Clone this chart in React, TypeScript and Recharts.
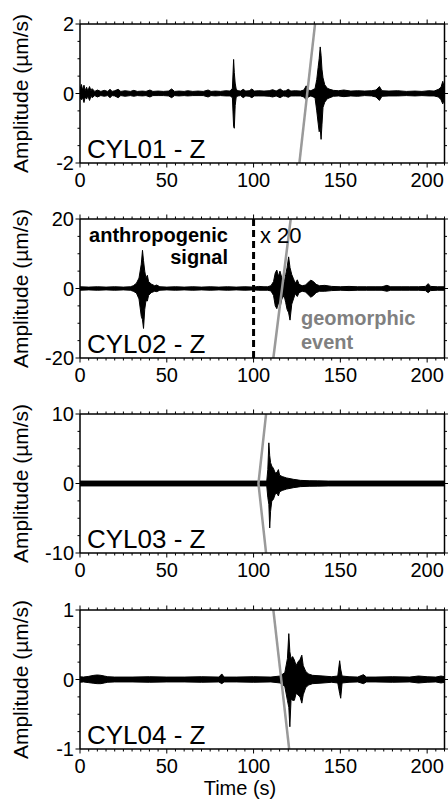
import React from 'react';
import { ComposedChart, Area, Line, XAxis, YAxis, ReferenceLine } from 'recharts';

const FONT = '"Liberation Sans", Arial, Helvetica, sans-serif';

// ---------- X axis ----------
const xDomain = [0, 210];
const xMajorTicks = [0, 50, 100, 150, 200];
const xMinorStep = 5;

// ---------- Panel 1 : CYL01 - Z ----------
const p1Time = [0, 0.8, 1.5, 2.3, 3, 3.8, 4.5, 5.5, 6.3, 7, 8.5, 10, 12, 14, 16, 17.3, 18.5, 20, 22, 23.5, 26, 29, 31, 33, 36, 38, 40.3, 42, 45, 48, 51, 52.8, 54.5, 57, 60, 62, 65, 68, 71, 73.8, 75.5, 78, 81, 84, 86.5, 87.8, 88.5, 88.9, 89.4, 90, 91, 92.5, 94, 95.5, 97.5, 99, 100.5, 103, 106, 109, 111, 113, 115.3, 117, 118.5, 120, 121.5, 124, 127, 129, 130.3, 131.5, 133, 135.4, 136.4, 137.2, 137.8, 138.4, 138.9, 139.4, 140, 141, 142.5, 144, 146, 149, 152, 156, 160, 164, 168, 170.5, 172.5, 174, 178, 183, 188, 193, 197, 201, 204, 206.5, 208, 209, 210];
const p1Upper = [0.12, 0.26, 0.1, 0.24, 0.08, 0.18, 0.07, 0.2, 0.08, 0.14, 0.06, 0.1, 0.06, 0.09, 0.06, 0.12, 0.06, 0.08, 0.12, 0.06, 0.08, 0.06, 0.09, 0.06, 0.07, 0.06, 0.1, 0.06, 0.07, 0.06, 0.07, 0.13, 0.06, 0.07, 0.06, 0.08, 0.06, 0.07, 0.06, 0.1, 0.06, 0.07, 0.06, 0.08, 0.07, 0.15, 0.98, 0.6, 0.3, 0.12, 0.08, 0.07, 0.12, 0.07, 0.08, 0.13, 0.07, 0.08, 0.07, 0.08, 0.11, 0.07, 0.13, 0.07, 0.08, 0.12, 0.07, 0.08, 0.07, 0.1, 0.22, 0.1, 0.08, 0.14, 0.4, 0.75, 1.0, 1.34, 1.1, 0.7, 0.45, 0.25, 0.15, 0.12, 0.09, 0.08, 0.1, 0.07, 0.08, 0.07, 0.08, 0.1, 0.2, 0.08, 0.07, 0.08, 0.06, 0.07, 0.06, 0.08, 0.07, 0.12, 0.18, 0.35, 0.15];
const p1Lower = [-0.12, -0.18, -0.12, -0.26, -0.1, -0.16, -0.07, -0.2, -0.08, -0.12, -0.06, -0.1, -0.06, -0.08, -0.06, -0.12, -0.06, -0.07, -0.12, -0.06, -0.08, -0.06, -0.08, -0.06, -0.07, -0.06, -0.1, -0.06, -0.06, -0.06, -0.07, -0.12, -0.06, -0.07, -0.06, -0.07, -0.06, -0.06, -0.06, -0.1, -0.06, -0.07, -0.06, -0.07, -0.07, -0.12, -0.95, -1.0, -0.35, -0.1, -0.07, -0.06, -0.12, -0.07, -0.08, -0.12, -0.07, -0.07, -0.07, -0.08, -0.1, -0.07, -0.12, -0.07, -0.08, -0.11, -0.07, -0.07, -0.07, -0.1, -0.18, -0.1, -0.07, -0.12, -0.5, -0.85, -1.1, -1.0, -1.32, -0.9, -0.4, -0.25, -0.15, -0.12, -0.08, -0.07, -0.09, -0.07, -0.08, -0.06, -0.07, -0.1, -0.2, -0.08, -0.07, -0.07, -0.06, -0.07, -0.06, -0.07, -0.07, -0.1, -0.18, -0.3, -0.15];
const p1MoveTime = [126.4, 135.4];
const p1MoveAmp = [-2, 2];

// ---------- Panel 2 : CYL02 - Z ----------
const p2Time = [0, 5, 10, 15, 20, 25, 29, 30.7, 32.5, 34, 35.3, 36, 36.6, 37.3, 38, 38.8, 39.5, 41, 43, 44.2, 46, 50, 55, 60, 65, 70, 75, 80, 85, 90, 95, 100, 103, 106, 108, 110, 111.5, 112.5, 113.4, 114.3, 115.2, 116.3, 117.6, 118.5, 119.3, 120.2, 121, 122, 123, 124, 125.2, 126.2, 128, 130, 131.5, 133, 134.5, 136, 138, 141, 145, 150, 155, 160, 165, 170, 174, 176.8, 179, 185, 190, 195, 199, 200.6, 202, 206, 210];
const p2Upper = [0.5, 0.4, 0.5, 0.4, 0.5, 0.4, 0.5, 0.8, 1.5, 3, 7, 11, 8, 5, 3, 3.8, 2, 1.3, 0.8, 1.0, 0.5, 0.4, 0.5, 0.4, 0.5, 0.4, 0.5, 0.4, 0.5, 0.4, 0.5, 0.4, 0.6, 0.5, 0.5, 0.8, 2, 4.5, 5.3, 3.5, 5, 3, 1.8, 4, 6, 9.1, 6, 4, 2.8, 1.5, 2.5, 1.2, 0.8, 1.0, 1.8, 2.4, 2.0, 1.2, 0.8, 0.9, 0.6, 0.5, 0.6, 0.5, 0.5, 0.5, 0.5, 0.9, 0.5, 0.5, 0.5, 0.5, 0.6, 1.4, 0.6, 0.5, 0.5];
const p2Lower = [-0.5, -0.4, -0.5, -0.4, -0.5, -0.4, -0.5, -0.8, -1.3, -3, -8, -9, -11.5, -6, -3.5, -3.6, -2, -1.2, -0.8, -0.9, -0.5, -0.4, -0.5, -0.4, -0.5, -0.4, -0.5, -0.4, -0.5, -0.4, -0.5, -0.4, -0.5, -0.5, -0.5, -0.7, -2, -5, -5.8, -4, -5.5, -3, -2, -4, -6, -7, -9.1, -4.5, -3, -1.5, -2.3, -1.2, -0.8, -1.0, -1.8, -2.5, -2.0, -1.2, -0.8, -0.8, -0.6, -0.5, -0.6, -0.5, -0.5, -0.5, -0.5, -0.8, -0.5, -0.5, -0.5, -0.5, -0.6, -1.2, -0.6, -0.5, -0.5];
const p2MoveTime = [111.4, 121.4];
const p2MoveAmp = [-20, 20];
const p2ScaleChange = 100;

// ---------- Panel 3 : CYL03 - Z ----------
const p3Time = [0, 107.6, 108.2, 108.8, 109.3, 109.8, 110.5, 111.4, 112.5, 113.5, 114.3, 115, 116.5, 119, 123, 127, 132, 137, 143, 210];
const p3Upper = [0.35, 0.35, 2, 5.85, 4, 3, 2.5, 2.2, 1.5, 1.6, 2.0, 1.2, 1.0, 0.8, 0.6, 0.45, 0.4, 0.38, 0.35, 0.35];
const p3Lower = [-0.35, -0.35, -2, -3, -6.4, -4, -2.5, -2.3, -1.5, -1.4, -1.8, -1.2, -1.0, -0.8, -0.6, -0.45, -0.4, -0.38, -0.35, -0.35];
const p3MoveTime = [107.2, 102.8, 107.2];
const p3MoveAmp = [10, 0, -10];

// ---------- Panel 4 : CYL04 - Z ----------
const p4Time = [0, 2, 5, 8, 10, 12, 14, 16, 20, 30, 40, 50, 60, 70, 80, 81.7, 83, 90, 100, 110, 115.3, 118, 119.5, 120.3, 120.9, 121.6, 122.5, 123.5, 124.5, 125.5, 126.8, 127.8, 128.6, 130, 131.6, 134, 140, 145, 148.5, 149.6, 150.2, 151, 155, 160, 163.3, 165, 170, 180, 190, 195, 200, 205, 208, 210];
const p4Upper = [0.04, 0.035, 0.045, 0.06, 0.065, 0.06, 0.05, 0.04, 0.035, 0.035, 0.04, 0.035, 0.035, 0.04, 0.035, 0.08, 0.035, 0.035, 0.04, 0.035, 0.05, 0.1, 0.3, 0.66, 0.4, 0.3, 0.33, 0.28, 0.2, 0.25, 0.29, 0.35, 0.2, 0.12, 0.08, 0.06, 0.05, 0.04, 0.05, 0.27, 0.15, 0.05, 0.04, 0.035, 0.07, 0.035, 0.035, 0.04, 0.035, 0.05, 0.04, 0.035, 0.05, 0.04];
const p4Lower = [-0.04, -0.035, -0.045, -0.055, -0.06, -0.06, -0.05, -0.04, -0.035, -0.035, -0.04, -0.035, -0.035, -0.04, -0.035, -0.06, -0.035, -0.035, -0.04, -0.035, -0.05, -0.1, -0.3, -0.4, -0.68, -0.28, -0.3, -0.3, -0.2, -0.22, -0.25, -0.34, -0.22, -0.12, -0.08, -0.06, -0.05, -0.04, -0.05, -0.2, -0.27, -0.05, -0.04, -0.035, -0.06, -0.035, -0.035, -0.04, -0.035, -0.05, -0.04, -0.035, -0.05, -0.04];
const p4MoveTime = [111.4, 120.5];
const p4MoveAmp = [1, -1];

// ---------- labels ----------
const stations = ['CYL01 - Z', 'CYL02 - Z', 'CYL03 - Z', 'CYL04 - Z'];
const yLimits = [2, 20, 10, 1];
const yAxisTitle = 'Amplitude (\u00b5m/s)';
const xAxisTitle = 'Time (s)';

const makeEnv = (time: number[], up: number[], lo: number[]) =>
  time.map((t, i) => ({ t, env: [lo[i], up[i]] }));
const makeMove = (time: number[], amp: number[]) => time.map((t, i) => ({ t, v: amp[i] }));

const panels = [
  { env: makeEnv(p1Time, p1Upper, p1Lower), move: makeMove(p1MoveTime, p1MoveAmp) },
  { env: makeEnv(p2Time, p2Upper, p2Lower), move: makeMove(p2MoveTime, p2MoveAmp) },
  { env: makeEnv(p3Time, p3Upper, p3Lower), move: makeMove(p3MoveTime, p3MoveAmp) },
  { env: makeEnv(p4Time, p4Upper, p4Lower), move: makeMove(p4MoveTime, p4MoveAmp) },
];

const xTicks: number[] = [];
for (let v = xDomain[0]; v <= xDomain[1]; v += xMinorStep) xTicks.push(v);

const CHART_W = 448;
const CHART_H = 195;
const PLOT_TOP = 24;
const PLOT_H = 139;
const chartTops = [0, 195, 390, 586];

const XTickBottom = (props: any) => {
  const { x, y, payload } = props;
  const v = payload.value;
  const major = xMajorTicks.includes(v);
  return (
    <g>
      <line x1={x} x2={x} y1={y} y2={y + (major ? 4.5 : 2.5)} stroke="#000" strokeWidth={1} />
      {major && (
        <text x={x} y={y + 24} textAnchor="middle" fontSize={20} fontFamily={FONT} fill="#000">
          {v}
        </text>
      )}
    </g>
  );
};

const XTickTop = (props: any) => {
  const { x, y, payload } = props;
  const major = xMajorTicks.includes(payload.value);
  return <line x1={x} x2={x} y1={y} y2={y - (major ? 4.5 : 2.5)} stroke="#000" strokeWidth={1} />;
};

const makeYTickLeft = (majors: number[]) => (props: any) => {
  const { x, y, payload } = props;
  const v = payload.value;
  const major = majors.some((m) => Math.abs(m - v) < 1e-9);
  return (
    <g>
      <line x1={x - (major ? 4.5 : 2.5)} x2={x} y1={y} y2={y} stroke="#000" strokeWidth={1} />
      {major && (
        <text x={x - 6} y={y} dy="0.36em" textAnchor="end" fontSize={20} fontFamily={FONT} fill="#000">
          {v}
        </text>
      )}
    </g>
  );
};

const makeYTickRight = (majors: number[]) => (props: any) => {
  const { x, y, payload } = props;
  const major = majors.some((m) => Math.abs(m - payload.value) < 1e-9);
  return <line x1={x} x2={x + (major ? 4.5 : 2.5)} y1={y} y2={y} stroke="#000" strokeWidth={1} />;
};

const axisLine = { stroke: '#000', strokeWidth: 1.5 };

function Panel({ index }: { index: number }) {
  const lim = yLimits[index];
  const majors = [-lim, 0, lim];
  const yTicks: number[] = [];
  for (let k = 0; k <= 8; k++) yTicks.push(-lim + (k * lim) / 4);
  const { env, move } = panels[index];
  return (
    <ComposedChart
      width={CHART_W}
      height={CHART_H}
      data={env}
      margin={{ top: PLOT_TOP - 1, right: 2.5, bottom: 0, left: 0 }}
    >
      <XAxis
        dataKey="t"
        type="number"
        domain={xDomain}
        ticks={xTicks}
        interval={0}
        allowDataOverflow
        height={32}
        tickLine={false}
        tickSize={0}
        tickMargin={0}
        axisLine={axisLine}
        tick={<XTickBottom />}
      />
      <XAxis
        xAxisId="top"
        orientation="top"
        dataKey="t"
        type="number"
        domain={xDomain}
        ticks={xTicks}
        interval={0}
        allowDataOverflow
        height={1}
        tickLine={false}
        tickSize={0}
        tickMargin={0}
        axisLine={axisLine}
        tick={<XTickTop />}
      />
      <YAxis
        type="number"
        domain={[-lim, lim]}
        ticks={yTicks}
        interval={0}
        allowDataOverflow
        width={80}
        tickLine={false}
        tickSize={0}
        tickMargin={0}
        axisLine={axisLine}
        tick={makeYTickLeft(majors)}
      />
      <YAxis
        yAxisId="right"
        orientation="right"
        type="number"
        domain={[-lim, lim]}
        ticks={yTicks}
        interval={0}
        allowDataOverflow
        width={1}
        tickLine={false}
        tickSize={0}
        tickMargin={0}
        axisLine={axisLine}
        tick={makeYTickRight(majors)}
      />
      {index === 1 && (
        <ReferenceLine x={p2ScaleChange} stroke="#000" strokeWidth={3} strokeDasharray="7 4" />
      )}
      <Area
        dataKey="env"
        type="linear"
        stroke="#000"
        strokeWidth={1}
        fill="#000"
        fillOpacity={1}
        dot={false}
        activeDot={false}
        isAnimationActive={false}
      />
      <Line
        data={move}
        dataKey="v"
        type="linear"
        stroke="#9a9a9a"
        strokeWidth={2.5}
        dot={false}
        activeDot={false}
        isAnimationActive={false}
      />
    </ComposedChart>
  );
}

export default function App() {
  return (
    <div
      style={{
        position: 'absolute',
        left: 0,
        top: 0,
        width: 448,
        height: 802,
        background: '#fff',
        overflow: 'hidden',
        fontFamily: FONT,
      }}
    >
      {chartTops.map((top, i) => (
        <div key={i} style={{ position: 'absolute', left: 0, top, width: CHART_W, height: CHART_H }}>
          <Panel index={i} />
        </div>
      ))}
      <svg
        width={448}
        height={802}
        style={{ position: 'absolute', left: 0, top: 0, pointerEvents: 'none' }}
        fontFamily={FONT}
      >
        {chartTops.map((top, i) => {
          const mid = top + PLOT_TOP + PLOT_H / 2;
          const bottom = top + PLOT_TOP + PLOT_H;
          return (
            <g key={i}>
              <text
                x={28}
                y={mid}
                transform={`rotate(-90, 28, ${mid})`}
                textAnchor="middle"
                fontSize={21}
                fill="#000"
              >
                {yAxisTitle}
              </text>
              <text x={87} y={bottom - 5} fontSize={26} fill="#000">
                {stations[i]}
              </text>
            </g>
          );
        })}
        <text x={228} y={242} textAnchor="end" fontSize={20} fontWeight="bold" fill="#000">
          anthropogenic
        </text>
        <text x={228} y={264} textAnchor="end" fontSize={20} fontWeight="bold" fill="#000">
          signal
        </text>
        <text x={260} y={242.5} fontSize={22} fill="#000">
          x 20
        </text>
        <text x={301} y={325} fontSize={20} fontWeight="bold" fill="#808080">
          geomorphic
        </text>
        <text x={301} y={349} fontSize={20} fontWeight="bold" fill="#808080">
          event
        </text>
        <text x={240} y={795} textAnchor="middle" fontSize={20} fill="#000">
          {xAxisTitle}
        </text>
      </svg>
    </div>
  );
}
